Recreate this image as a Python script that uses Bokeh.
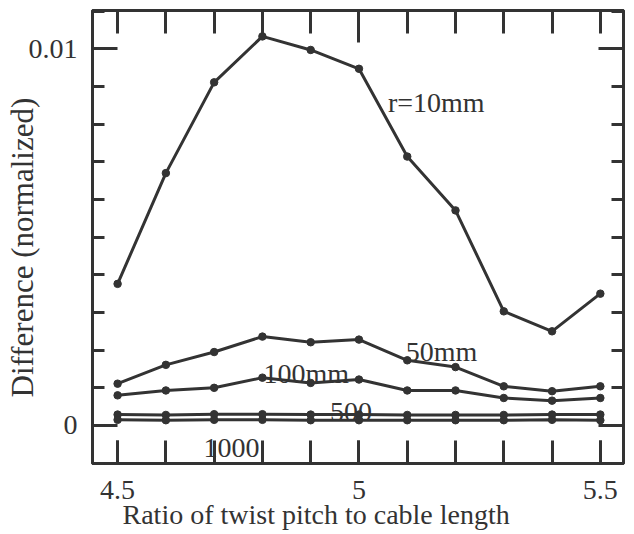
from bokeh.plotting import figure
from bokeh.models import Range1d, LinearAxis, FixedTicker, Label, Title
from bokeh.embed import file_html
from bokeh.resources import INLINE

ratio = [4.5, 4.6, 4.7, 4.8, 4.9, 5.0, 5.1, 5.2, 5.3, 5.4, 5.5]
r10mm = [0.00376, 0.00670, 0.00911, 0.01033, 0.00997, 0.00947, 0.00714, 0.00571, 0.00303, 0.00250, 0.00350]
r50mm = [0.00111, 0.00161, 0.00195, 0.00236, 0.00221, 0.00228, 0.00173, 0.00155, 0.00104, 0.00091, 0.00104]
r100mm = [0.00080, 0.00093, 0.00100, 0.00127, 0.00113, 0.00122, 0.00093, 0.00093, 0.00073, 0.00066, 0.00073]
r500mm = [0.00029, 0.00028, 0.00030, 0.00030, 0.00029, 0.00029, 0.00028, 0.00028, 0.00028, 0.00029, 0.00029]
r1000mm = [0.00015, 0.00014, 0.00015, 0.00015, 0.00014, 0.00014, 0.00014, 0.00014, 0.00014, 0.00015, 0.00014]
series_names = ["r=10mm", "50mm", "100mm", "500", "1000"]

x_title = "Ratio of twist pitch to cable length"
y_title = "Difference (normalized)"
x_major = [4.5, 5.0, 5.5]
x_minor = [4.5, 4.6, 4.7, 4.8, 4.9, 5.0, 5.1, 5.2, 5.3, 5.4, 5.5]
x_tick_labels = {4.5: "4.5", 5.0: "5", 5.5: "5.5"}
y_major = [0.0, 0.01]
y_minor = [-0.001, 0.0, 0.001, 0.002, 0.003, 0.004, 0.005, 0.006, 0.007, 0.008, 0.009, 0.01, 0.011]
y_tick_labels = {0.0: "0", 0.01: "0.01"}

INK = "#333333"
FONT = "Liberation Serif"
FS = "28px"
LW = 3

p = figure(frame_width=531, frame_height=453, output_backend="svg", toolbar_location=None,
           x_range=Range1d(4.448, 5.548), y_range=Range1d(-0.001009, 0.011017),
           x_axis_type=None, y_axis_type=None,
           min_border_left=92, min_border_right=3, min_border_top=10, min_border_bottom=71)
p.background_fill_color = "white"
p.border_fill_color = "white"
p.grid.visible = False
p.outline_line_color = INK
p.outline_line_width = LW

def make_axis(ticks, minor, labels, maj_in, min_in):
    ax = LinearAxis(ticker=FixedTicker(ticks=ticks, minor_ticks=minor))
    ax.major_tick_in = maj_in
    ax.major_tick_out = 0
    ax.minor_tick_in = min_in
    ax.minor_tick_out = 0
    ax.major_tick_line_color = INK
    ax.minor_tick_line_color = INK
    ax.major_tick_line_width = LW
    ax.minor_tick_line_width = LW
    ax.axis_line_color = INK
    ax.axis_line_width = LW
    ax.major_label_text_font = FONT
    ax.major_label_text_color = INK
    if labels is None:
        ax.major_label_overrides = {t: "" for t in ticks}
        ax.major_label_text_font_size = "1px"
        ax.major_label_standoff = 0
    else:
        ax.major_label_overrides = labels
        ax.major_label_text_font_size = FS
    return ax

xb = make_axis(x_major, x_minor, x_tick_labels, 23, 23)
xb.major_label_standoff = 17
p.add_layout(xb, "below")

xt = make_axis([5.0], x_minor, None, 32, 23)
p.add_layout(xt, "above")

yl = make_axis(y_major, y_minor, y_tick_labels, 25, 12)
yl.major_label_standoff = 15
p.add_layout(yl, "left")

yr = make_axis(y_major, y_minor, None, 25, 12)
p.add_layout(yr, "right")

# axis titles (placed off-centre as in the reference)
p.add_layout(Title(text=x_title, text_font=FONT, text_font_size=FS, text_font_style="normal",
                   text_color=INK, align="left", offset=30, vertical_align="bottom",
                   standoff=-10), "below")
p.add_layout(Title(text=y_title, text_font=FONT, text_font_size="31px", text_font_style="normal",
                   text_color=INK, align="left", offset=66, vertical_align="bottom",
                   standoff=-29), "left")

for ys in [r10mm, r50mm, r100mm, r500mm, r1000mm]:
    p.line(ratio, ys, line_color=INK, line_width=LW)
    p.scatter(ratio, ys, size=7.5, fill_color=INK, line_color=INK)

label_pos = [(5.06, 0.00857), (5.097, 0.00196), (4.802, 0.00138), (4.94, 0.000345), (4.678, -0.00061)]
for name, (lx, ly) in zip(series_names, label_pos):
    p.add_layout(Label(x=lx, y=ly, text=name, text_font=FONT, text_font_size=FS,
                       text_color=INK, text_align="left", text_baseline="alphabetic"))

open("out.html", "w").write(file_html(p, INLINE))
